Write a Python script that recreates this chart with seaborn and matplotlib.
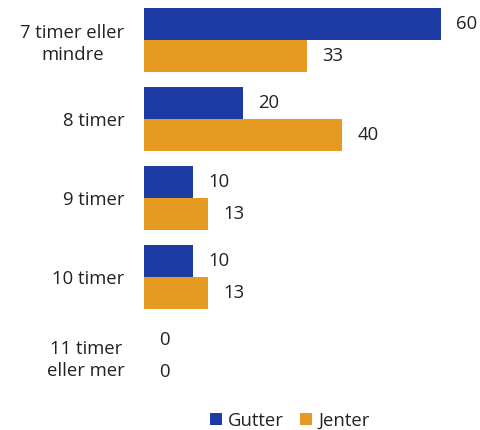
import matplotlib
matplotlib.use("Agg")
import matplotlib.pyplot as plt
import seaborn as sns
import pandas as pd

categories = ["7 timer eller\nmindre", "8 timer", "9 timer", "10 timer", "11 timer\neller mer"]
gutter = [60, 20, 10, 10, 0]
jenter = [33, 40, 13, 13, 0]
series_names = ["Gutter", "Jenter"]
colors = ["#1d3ba5", "#e59b22"]

df = pd.DataFrame({
    "kategori": categories * 2,
    "verdi": gutter + jenter,
    "kjønn": [series_names[0]] * len(categories) + [series_names[1]] * len(categories),
})

sns.set_style("white")
plt.rcParams['font.family'] = ['Open Sans', 'DejaVu Sans']
text_color = "#222222"
fs = 13.3

fig = plt.figure(figsize=(4.8, 4.3), dpi=100)
ax = fig.add_axes([0.30, 0.080, 0.70, 0.918])

sns.barplot(data=df, y="kategori", x="verdi", hue="kjønn", order=categories,
            hue_order=series_names, palette=colors, orient="h", width=0.81,
            saturation=1, linewidth=0, ax=ax, legend=True)

for cont in ax.containers:
    ax.bar_label(cont, padding=11, fontsize=fs, color=text_color)

ax.set_xlim(0, 67.9)
ax.set_ylim(len(categories) - 0.5, -0.5)
ax.set_xlabel("")
ax.set_ylabel("")
ax.set_xticks([])
ax.tick_params(axis="y", length=0, pad=14, labelsize=fs, labelcolor=text_color)
for lab in ax.get_yticklabels():
    lab.set_multialignment("center")
    lab.set_linespacing(1.25)
sns.despine(ax=ax, left=True, bottom=True, top=True, right=True)

handles, labels = ax.get_legend_handles_labels()
ax.get_legend().remove()
fig.legend(handles, labels, loc="center", bbox_to_anchor=(0.604, 0.022),
           ncol=2, frameon=False, fontsize=fs, handlelength=0.6, handleheight=0.6,
           handletextpad=0.35, columnspacing=0.9, labelcolor=text_color)

fig.savefig("out.png", dpi=100)
